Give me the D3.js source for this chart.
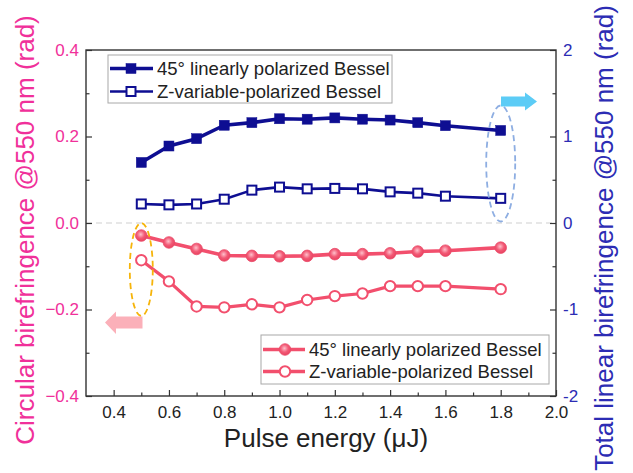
<!DOCTYPE html>
<html>
<head>
<meta charset="utf-8">
<script src="https://cdn.jsdelivr.net/npm/d3@7"></script>
<style>
  html, body { margin: 0; padding: 0; background: #fff; }
  svg { display: block; font-family: Arial, "Liberation Sans", sans-serif; }
</style>
</head>
<body>
<svg id="chart" width="633" height="473"></svg>
<script>
// ---------- data ----------
const energy = [0.5, 0.6, 0.7, 0.8, 0.9, 1.0, 1.1, 1.2, 1.3, 1.4, 1.5, 1.6, 1.8];
// Total linear birefringence (right axis, rad)
const linear45 = [0.70, 0.89, 0.975, 1.13, 1.16, 1.205, 1.20, 1.215, 1.20, 1.19, 1.16, 1.125, 1.07];
const linearZ  = [0.22, 0.21, 0.22, 0.275, 0.38, 0.415, 0.395, 0.40, 0.395, 0.36, 0.345, 0.31, 0.285];
// Circular birefringence (left axis, rad)
const circ45 = [-0.029, -0.045, -0.060, -0.075, -0.076, -0.077, -0.076, -0.072, -0.072, -0.070, -0.066, -0.064, -0.057];
const circZ  = [-0.086, -0.135, -0.193, -0.195, -0.188, -0.195, -0.178, -0.169, -0.163, -0.146, -0.146, -0.146, -0.153];

const xTicks = [0.4, 0.6, 0.8, 1.0, 1.2, 1.4, 1.6, 1.8, 2.0];
const xMinor = [0.5, 0.7, 0.9, 1.1, 1.3, 1.5, 1.7, 1.9];
const yLeftTicks = [-0.4, -0.2, 0.0, 0.2, 0.4];
const yLeftMinor = [-0.3, -0.1, 0.1, 0.3];
const yRightTicks = [-2, -1, 0, 1, 2];
const yRightMinor = [-1.5, -0.5, 0.5, 1.5];

const legendTop = ["45° linearly polarized Bessel", "Z-variable-polarized Bessel"];
const legendBottom = ["45° linearly polarized Bessel", "Z-variable-polarized Bessel"];

const xTitle = "Pulse energy (μJ)";
const yLeftTitle = "Circular birefringence @550 nm (rad)";
const yRightTitle = "Total linear birefringence @550 nm (rad)";

// ---------- styles ----------
const NAVY = "#0e0e92";
const RED = "#f24f6d";
const PINK_TXT = "#f0309a";
const BLUE_TXT = "#2c2cb4";
const FRAME = "#333";

const L = 86, R = 556, T = 50, B = 396;
const svg = d3.select("#chart");

const x = d3.scaleLinear().domain([0.3, 2.0]).range([L, R]);
const yL = d3.scaleLinear().domain([-0.4, 0.4]).range([B, T]);
const yR = d3.scaleLinear().domain([-2, 2]).range([B, T]);

// gradient for filled circles
const defs = svg.append("defs");
const grad = defs.append("radialGradient").attr("id", "ball").attr("cx", "45%").attr("cy", "40%").attr("r", "60%");
grad.append("stop").attr("offset", "0%").attr("stop-color", "#ffc0cb");
grad.append("stop").attr("offset", "55%").attr("stop-color", "#f25a76");
grad.append("stop").attr("offset", "100%").attr("stop-color", "#e8415f");

// zero dashed line
svg.append("line")
  .attr("x1", L).attr("x2", R).attr("y1", yL(0)).attr("y2", yL(0))
  .attr("stroke", "#cfcfcf").attr("stroke-width", 1.2).attr("stroke-dasharray", "6,4");

// ---------- axes ----------
function styleAxis(g, color) {
  g.select(".domain").remove();
  g.selectAll(".tick line").attr("stroke", FRAME).attr("stroke-width", 1.2);
  g.selectAll(".tick text").attr("fill", color).attr("font-size", 17)
    .attr("font-family", "Arial, 'Liberation Sans', sans-serif");
}

const gx = svg.append("g").attr("transform", `translate(0,${B})`)
  .call(d3.axisBottom(x).tickValues(xTicks).tickFormat(d3.format(".1f")).tickSize(-6).tickPadding(10));
styleAxis(gx, "#222");
const gxm = svg.append("g").attr("transform", `translate(0,${B})`)
  .call(d3.axisBottom(x).tickValues(xMinor).tickFormat("").tickSize(-3.5));
styleAxis(gxm, "#222");

const gyl = svg.append("g").attr("transform", `translate(${L},0)`)
  .call(d3.axisLeft(yL).tickValues(yLeftTicks).tickFormat(d3.format(".1f")).tickSize(-6).tickPadding(7));
styleAxis(gyl, PINK_TXT);
const gylm = svg.append("g").attr("transform", `translate(${L},0)`)
  .call(d3.axisLeft(yL).tickValues(yLeftMinor).tickFormat("").tickSize(-3.5));
styleAxis(gylm, PINK_TXT);

const gyr = svg.append("g").attr("transform", `translate(${R},0)`)
  .call(d3.axisRight(yR).tickValues(yRightTicks).tickFormat(d3.format("d")).tickSize(-6).tickPadding(7));
styleAxis(gyr, BLUE_TXT);
gyr.selectAll(".tick text").text(d => d < 0 ? "-" + Math.abs(d) : d);
const gyrm = svg.append("g").attr("transform", `translate(${R},0)`)
  .call(d3.axisRight(yR).tickValues(yRightMinor).tickFormat("").tickSize(-3.5));
styleAxis(gyrm, BLUE_TXT);

// frame
svg.append("rect").attr("x", L).attr("y", T).attr("width", R - L).attr("height", B - T)
  .attr("fill", "none").attr("stroke", FRAME).attr("stroke-width", 1.4);

// ---------- series ----------
function drawLine(vals, yScale, color, width) {
  svg.append("path")
    .datum(vals.map((v, i) => [energy[i], v]))
    .attr("fill", "none").attr("stroke", color).attr("stroke-width", width)
    .attr("stroke-linejoin", "round")
    .attr("d", d3.line().x(d => x(d[0])).y(d => yScale(d[1])));
}
function drawSquares(vals, yScale, filled) {
  const s = filled ? 10 : 9;
  svg.append("g").selectAll("rect").data(vals).join("rect")
    .attr("x", (d, i) => x(energy[i]) - s / 2).attr("y", d => yScale(d) - s / 2)
    .attr("width", s).attr("height", s)
    .attr("fill", filled ? NAVY : "#fff")
    .attr("stroke", NAVY).attr("stroke-width", filled ? 0.5 : 2);
}
function drawCircles(vals, yScale, filled) {
  svg.append("g").selectAll("circle").data(vals).join("circle")
    .attr("cx", (d, i) => x(energy[i])).attr("cy", d => yScale(d))
    .attr("r", filled ? 5.8 : 5.2)
    .attr("fill", filled ? "url(#ball)" : "#fff")
    .attr("stroke", filled ? "#ea4a68" : RED).attr("stroke-width", filled ? 0.8 : 2);
}

drawLine(linear45, yR, NAVY, 3.6);
drawSquares(linear45, yR, true);
drawLine(linearZ, yR, NAVY, 2.6);
drawSquares(linearZ, yR, false);
drawLine(circ45, yL, RED, 3.6);
drawCircles(circ45, yL, true);
drawLine(circZ, yL, RED, 3.2);
drawCircles(circZ, yL, false);

// ---------- annotations ----------
// ellipses
svg.append("ellipse").attr("cx", x(0.5)).attr("cy", 269.5).attr("rx", 11.5).attr("ry", 46.5)
  .attr("fill", "none").attr("stroke", "#f6b40a").attr("stroke-width", 1.8).attr("stroke-dasharray", "6,4");
svg.append("ellipse").attr("cx", x(1.8)).attr("cy", 163.5).attr("rx", 14.5).attr("ry", 58)
  .attr("fill", "none").attr("stroke", "#8eaee2").attr("stroke-width", 1.8).attr("stroke-dasharray", "6,4");

// arrows
svg.append("path")
  .attr("d", "M501,96.5 L525,96.5 L525,92.5 L537,101.5 L525,110.5 L525,106.5 L501,106.5 Z")
  .attr("fill", "#5cccf6");
svg.append("path")
  .attr("d", "M142.5,316.5 L116,316.5 L116,311.5 L105,322.5 L116,334 L116,328.5 L142.5,328.5 Z")
  .attr("fill", "#fbb0b9");

// ---------- legends ----------
function legend(x0, y0, w, h, rowsY, lineX1, lineX2, markX, textX, labels, drawMark) {
  svg.append("rect").attr("x", x0).attr("y", y0).attr("width", w).attr("height", h)
    .attr("fill", "#fff").attr("stroke", "#a8a8a8").attr("stroke-width", 1);
  labels.forEach((lab, i) => {
    const yy = rowsY[i];
    drawMark(i, yy, lineX1, lineX2, markX);
    svg.append("text").attr("x", textX).attr("y", yy).attr("dy", "0.36em")
      .attr("font-size", 18.5).attr("fill", "#222").text(lab);
  });
}
legend(108, 55, 284, 48, [68.5, 91.5], 110, 153, 131, 157, legendTop, (i, yy, a, b, m) => {
  svg.append("line").attr("x1", a).attr("x2", b).attr("y1", yy).attr("y2", yy)
    .attr("stroke", NAVY).attr("stroke-width", i === 0 ? 3.6 : 2.6);
  const s = i === 0 ? 10 : 9;
  svg.append("rect").attr("x", m - s / 2).attr("y", yy - s / 2).attr("width", s).attr("height", s)
    .attr("fill", i === 0 ? NAVY : "#fff").attr("stroke", NAVY).attr("stroke-width", i === 0 ? 0.5 : 2);
});
legend(261, 335, 288, 49, [349.5, 371.5], 263, 305, 285, 309, legendBottom, (i, yy, a, b, m) => {
  svg.append("line").attr("x1", a).attr("x2", b).attr("y1", yy).attr("y2", yy)
    .attr("stroke", RED).attr("stroke-width", 3.4);
  svg.append("circle").attr("cx", m).attr("cy", yy).attr("r", i === 0 ? 5.8 : 5.2)
    .attr("fill", i === 0 ? "url(#ball)" : "#fff")
    .attr("stroke", i === 0 ? "#ea4a68" : RED).attr("stroke-width", i === 0 ? 0.8 : 2);
});

// ---------- titles ----------
svg.append("text").attr("x", (L + R) / 2 + 5).attr("y", 447).attr("text-anchor", "middle")
  .attr("font-size", 26).attr("fill", "#222").text(xTitle);
svg.append("text").attr("transform", "translate(34,230) rotate(-90)").attr("text-anchor", "middle")
  .attr("font-size", 26).attr("fill", PINK_TXT).text(yLeftTitle);
svg.append("text").attr("transform", "translate(613,238) rotate(-90)").attr("text-anchor", "middle")
  .attr("font-size", 26).attr("fill", BLUE_TXT).text(yRightTitle);
</script>
</body>
</html>
